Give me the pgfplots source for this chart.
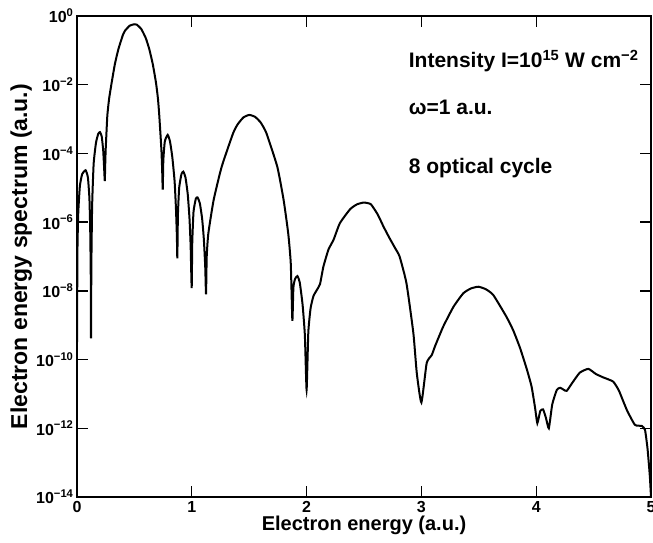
\documentclass[border=0pt]{standalone}
\usepackage{fontspec}
\setmainfont{Liberation Sans}
\usepackage{pgfplots}
\pgfplotsset{compat=1.18}
\usetikzlibrary{calc}

\newcommand{\tl}[1]{\textbf{10}\textsuperscript{\textbf{#1}}}

\begin{document}
\begin{tikzpicture}
\begin{axis}[
    name=ax,
    scale only axis,
    width=574pt, height=481pt,
    xmin=0, xmax=5,
    ymin=1e-14, ymax=1,
    ymode=log,
    xtick={0,1,2,3,4,5},
    ytick={1e-14,1e-12,1e-10,1e-8,1e-6,1e-4,1e-2,1},
    yticklabels={\tl{−14},\tl{−12},\tl{−10},\tl{−8},\tl{−6},\tl{−4},\tl{−2},\tl{0}},
    yminorticks=false,
    tick align=inside,
    major tick length=11pt,
    axis line style={line width=1.6pt},
    tick style={line width=1.4pt, black},
    /pgf/number format/assume math mode=true,
    every tick label/.append style={font=\fontsize{16}{18}\selectfont\bfseries},
    xticklabel style={yshift=-1pt},
    xlabel={Electron energy (a.u.)},
    ylabel={Electron energy spectrum (a.u.)},
    xlabel style={font=\fontsize{20}{22}\selectfont\bfseries,
        at={(axis description cs:0.5,0)}, anchor=base, yshift=-33pt},
    ylabel style={font=\fontsize{23}{25}\selectfont\bfseries,
        at={(axis description cs:-0.087,0.5)}, anchor=base},
]
\addplot[black, line width=2pt, smooth, tension=0.3] coordinates {
(0,3.16e-10) (0.004,1.58e-7) (0.011,1.86e-6) (0.025,1.12e-5) (0.045,2.51e-5)
(0.075,3.24e-5) (0.095,2.0e-5) (0.108,5.01e-6) (0.115,6.31e-7) (0.12,2.51e-8)
(0.122,4.17e-10) (0.125,5.01e-8) (0.132,3.16e-6) (0.145,5.01e-5) (0.165,2.0e-4)
(0.185,3.72e-4) (0.2,4.17e-4) (0.215,3.16e-4) (0.228,1.26e-4) (0.236,3.98e-5)
(0.242,1.58e-5) (0.246,5.01e-5) (0.25,1.32e-4) (0.264,1.23e-3) (0.28,3.98e-3)
(0.302,1.15e-2) (0.33,3.98e-2) (0.36,0.107) (0.40,0.282) (0.42,0.380)
(0.46,0.525) (0.50,0.575) (0.52,0.562) (0.56,0.417) (0.60,0.224)
(0.63,0.107) (0.66,3.98e-2)
(0.688,1.15e-2) (0.705,3.98e-3) (0.717,1.23e-3) (0.735,1.32e-4) (0.742,3.16e-5)
(0.747,8.91e-6) (0.752,6.31e-5) (0.765,2.24e-4) (0.79,3.47e-4) (0.81,2.24e-4)
(0.83,7.94e-5) (0.85,1.58e-5) (0.862,2.51e-6) (0.87,3.98e-7) (0.874,8.91e-8)
(0.879,1.58e-6) (0.89,1e-5) (0.91,2.51e-5) (0.926,2.95e-5) (0.945,2.0e-5)
(0.965,6.31e-6) (0.98,1.26e-6) (0.99,2.0e-7) (0.999,1.20e-8) (1.004,2.51e-7)
(1.015,2.0e-6) (1.035,4.79e-6) (1.05,5.25e-6) (1.07,3.55e-6) (1.09,1.26e-6)
(1.105,3.16e-7) (1.117,5.01e-8) (1.124,7.94e-9) (1.13,1e-7) (1.144,4.68e-7)
(1.19,4.37e-6) (1.26,4.07e-5) (1.36,3.89e-4) (1.40,7.08e-4) (1.45,1.12e-3)
(1.50,1.32e-3) (1.55,1.17e-3) (1.60,7.94e-4) (1.65,3.89e-4) (1.745,4.07e-5)
(1.80,4.37e-6) (1.84,4.68e-7)
(1.862,6.31e-8) (1.876,1.35e-9) (1.885,1.26e-8) (1.9,2.24e-8) (1.92,2.69e-8)
(1.94,1.78e-8) (1.965,3.98e-9) (1.985,5.01e-10) (2.0,1.32e-11) (2.015,6.31e-10)
(2.035,3.16e-9) (2.06,7.08e-9) (2.09,1.07e-8) (2.117,1.58e-8) (2.146,5.01e-8)
(2.19,1.58e-7) (2.235,3.09e-7) (2.29,9.33e-7) (2.38,2.40e-6) (2.44,3.31e-6)
(2.50,3.72e-6) (2.56,3.31e-6) (2.62,1.66e-6) (2.67,7.41e-7) (2.72,3.55e-7)
(2.77,1.78e-7) (2.81,1e-7)
(2.87,1.66e-8) (2.93,5.89e-10) (2.96,3.98e-11) (3.0,5.62e-12) (3.046,7.94e-11)
(3.09,1.35e-10) (3.12,2.51e-10) (3.19,9.12e-10) (3.28,3.47e-9) (3.365,8.51e-9)
(3.43,1.17e-8) (3.496,1.32e-8) (3.56,1.12e-8) (3.626,7.59e-9) (3.74,1.78e-9)
(3.80,7.08e-10) (3.86,2.14e-10) (3.92,5.01e-11) (3.96,1.62e-11) (3.99,3.98e-12)
(4.01,1.41e-12) (4.035,3.16e-12) (4.06,3.55e-12) (4.085,2.0e-12) (4.11,1e-12)
(4.14,5.01e-12) (4.18,1.32e-11) (4.21,1.51e-11) (4.24,1.32e-11) (4.266,1.23e-11)
(4.32,2.24e-11) (4.38,4.17e-11) (4.454,5.37e-11) (4.52,3.80e-11) (4.585,3.02e-11)
(4.67,2.29e-11) (4.72,1.26e-11) (4.79,3.39e-12) (4.86,1.26e-12) (4.92,1.17e-12)
(4.948,8.91e-13) (4.97,2.51e-13) (4.99,3.98e-14) (5.0,1e-14)
};
\node[anchor=base west, font=\fontsize{21}{23}\selectfont\bfseries] at (axis cs:2.86,0.0307) {Intensity I=10\textsuperscript{15} W cm\textsuperscript{−2}};
\node[anchor=base west, font=\fontsize{21}{23}\selectfont\bfseries] at (axis cs:2.86,1.32e-3) {ω=1 a.u.};
\node[anchor=base west, font=\fontsize{21}{23}\selectfont\bfseries] at (axis cs:2.86,2.69e-5) {8 optical cycle};
\end{axis}
\pgfresetboundingbox
\useasboundingbox ($(ax.south west)+(-77pt,-46pt)$) rectangle ($(ax.north east)+(2pt,16pt)$);
\end{tikzpicture}
\end{document}
